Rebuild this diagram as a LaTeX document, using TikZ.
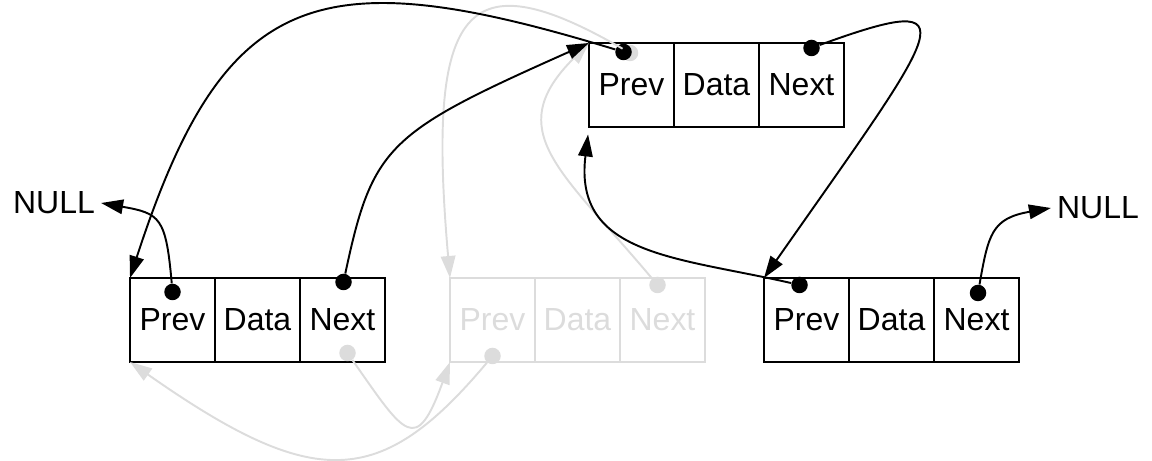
\documentclass[tikz,border=0pt]{standalone}
\usepackage{fontspec}
\setmainfont{Liberation Sans}
\usepackage{tikz}
\usetikzlibrary{arrows.meta,positioning}
\definecolor{lkgray}{HTML}{DCDCDC}

\begin{document}
\begin{tikzpicture}[font=\fontsize{18.2}{21}\selectfont,
 cell/.style={draw,line width=1pt,minimum width=1.7cm,minimum height=1.68cm,%
   inner sep=0pt,outer sep=0pt},
 ghostcell/.style={cell,draw=lkgray,text=lkgray},
 ptdot/.style={circle,fill,inner sep=0pt,minimum size=0.33cm},
 ghostdot/.style={ptdot,fill=lkgray},
 ptr/.style={-{Triangle[length=4.4mm,width=2.9mm]},line width=1.1pt},
 ghostptr/.style={ptr,color=lkgray}]
\useasboundingbox (0,0) rectangle (23.04,9.22);
% removed node (grey)
\node[ghostcell] (gp) at (9.85,2.82) {Prev};
\node[ghostcell,right=0pt of gp] (gd) {Data};
\node[ghostcell,right=0pt of gd] (gn) {Next};
% list nodes
\node[cell] (lp) at (3.45,2.82) {Prev};
\node[cell,right=0pt of lp] (ld) {Data};
\node[cell,right=0pt of ld] (ln) {Next};
\node[cell] (tp) at (12.63,7.52) {Prev};
\node[cell,right=0pt of tp] (td) {Data};
\node[cell,right=0pt of td] (tn) {Next};
\node[cell] (rp) at (16.13,2.82) {Prev};
\node[cell,right=0pt of rp] (rd) {Data};
\node[cell,right=0pt of rd] (rn) {Next};
\node (lnull) at (1.08,5.16) {NULL};
\node (rnull) at (21.96,5.06) {NULL};
% pointer dots
\node[ghostdot] (gpdot) at ([yshift=0.12cm]gp.south) {};
\node[ghostdot] (gndot) at ([shift={(-0.1,-0.14)}]gn.north) {};
\node[ghostdot] (lnghost) at ([shift={(0.1,0.18)}]ln.south) {};
\node[ghostdot] (tpghost) at ([shift={(-0.03,-0.2)}]tp.north) {};
\node[ptdot] (lpdot) at ([yshift=-0.28cm]lp.north) {};
\node[ptdot] (lndot) at ([shift={(0.02,-0.08)}]ln.north) {};
\node[ptdot] (tpdot) at ([shift={(-0.16,-0.18)}]tp.north) {};
\node[ptdot] (tndot) at ([shift={(0.2,-0.1)}]tn.north) {};
\node[ptdot] (rpdot) at ([shift={(-0.14,-0.14)}]rp.north) {};
\node[ptdot] (rndot) at ([shift={(0.03,-0.3)}]rn.north) {};
% old links
\draw[ghostptr] (tpghost) .. controls +(150:3.8) and +(95:5.5) .. (gp.north west);
\draw[ghostptr] (gndot) .. controls +(130:3) and +(225:2.5) .. (tp.north west);
\draw[ghostptr] (gpdot) .. controls +(-130:3.5) and +(-35:4.5) .. (lp.south west);
\draw[ghostptr] (lnghost) .. controls +(-55:2) and +(-110:2) .. (gp.south west);
% new links
\draw[ptr] (lpdot) .. controls +(95:1.5) and +(-10:1.2) .. (lnull.east);
\draw[ptr] (tpdot) .. controls +(163:6.4) and +(72:6.1) .. (lp.north west);
\draw[ptr] (lndot) .. controls +(78:2.8) and +(204:4.4) .. (tp.north west);
\draw[ptr] (tndot) .. controls +(20:3.5) and +(55:6.2) .. (rp.north west);
\draw[ptr,shorten >=0.15cm] (rpdot) .. controls +(167:2.5) and +(-97:2.6) .. (tp.south west);
\draw[ptr] (rndot) .. controls +(80:1.2) and +(190:1.2) .. (rnull.west);
\end{tikzpicture}
\end{document}
